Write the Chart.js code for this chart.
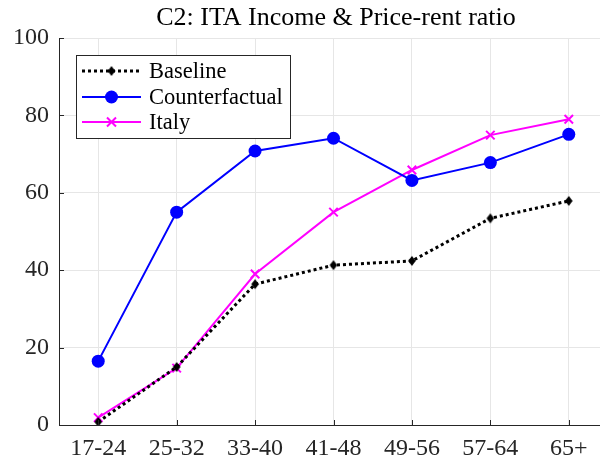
<!DOCTYPE html>
<html><head><meta charset="utf-8">
<script src="https://cdn.jsdelivr.net/npm/chart.js@4/dist/chart.umd.min.js"></script>
<style>
html,body{margin:0;padding:0;background:#fff;overflow:hidden;width:600px;height:463px;}
#wrap{position:absolute;left:0;top:0;width:616px;height:463px;}
</style></head>
<body>
<div id="wrap"><canvas id="c" width="616" height="463"></canvas></div>
<script>
const categories = ["17-24","25-32","33-40","41-48","49-56","57-64","65+"];
const baseline = [0.8, 15.0, 36.4, 41.3, 42.4, 53.4, 57.9];
const counterfactual = [16.5, 55.0, 70.8, 74.1, 63.2, 67.8, 75.1];
const italy = [1.9, 14.7, 39.0, 55.0, 65.9, 74.9, 79.0];
const yTicks = [0, 20, 40, 60, 80, 100];
const titleText = "C2: ITA Income & Price-rent ratio";
const FONT = "'Liberation Serif', 'Times New Roman', serif";
const AXIS = "#262626";

function drawMarker(ctx, style, x, y, r, color, bw){
  ctx.save();
  ctx.fillStyle = color; ctx.strokeStyle = color; ctx.lineWidth = bw; ctx.setLineDash([]);
  ctx.beginPath();
  if (style instanceof HTMLCanvasElement){ ctx.drawImage(style, x - style.width/2, y - style.height/2); }
  else if (style === 'circle'){ ctx.arc(x,y,r,0,Math.PI*2); ctx.fill(); }
  else if (style === 'crossRot'){ const d=r*0.75; ctx.moveTo(x-d,y-d); ctx.lineTo(x+d,y+d); ctx.moveTo(x+d,y-d); ctx.lineTo(x-d,y+d); ctx.stroke(); }
  ctx.restore();
}

const overlay = {
  id: 'overlay',
  afterDraw(chart){
    const ctx = chart.ctx, ca = chart.chartArea;
    const xs = chart.scales.x, ys = chart.scales.y;
    ctx.save();
    ctx.strokeStyle = AXIS; ctx.lineWidth = 1;
    ctx.beginPath();
    categories.forEach((c,i)=>{ const px = Math.round(xs.getPixelForValue(i))+0.5; ctx.moveTo(px, ca.bottom); ctx.lineTo(px, ca.bottom-5); });
    yTicks.forEach(v=>{ const py = Math.round(ys.getPixelForValue(v))+0.5; ctx.moveTo(ca.left, py); ctx.lineTo(ca.left+5, py); });
    ctx.stroke();
    ctx.fillStyle = '#000'; ctx.font = "26px " + FONT; ctx.textAlign='center'; ctx.textBaseline='middle';
    ctx.fillText(titleText, 336, 18);
    const bx=76, by=55, bw=214, bh=83;
    ctx.fillStyle='#fff'; ctx.fillRect(bx,by,bw,bh);
    ctx.strokeStyle=AXIS; ctx.lineWidth=1; ctx.strokeRect(bx+0.5,by+0.5,bw,bh);
    const rows=[71,97,122];
    chart.data.datasets.forEach((ds,i)=>{
      const y=rows[i];
      ctx.save();
      ctx.strokeStyle=ds.borderColor; ctx.lineWidth=ds.borderWidth; ctx.setLineDash(ds.borderDash||[]);
      ctx.beginPath(); ctx.moveTo(82,y); ctx.lineTo(141,y); ctx.stroke();
      ctx.restore();
      drawMarker(ctx, ds.pointStyle, 111.5, y, ds.pointRadius, ds.borderColor, ds.pointBorderWidth);
      ctx.fillStyle='#000'; ctx.font="22.5px "+FONT; ctx.textAlign='left'; ctx.textBaseline='middle';
      ctx.fillText(ds.label, 149, y+1);
    });
    ctx.restore();
  }
};

const diamond = document.createElement('canvas');
diamond.width = 10; diamond.height = 12;
(function(){ const c = diamond.getContext('2d'); c.fillStyle='#000'; c.beginPath(); c.moveTo(5,1); c.lineTo(8.8,6); c.lineTo(5,11); c.lineTo(1.2,6); c.closePath(); c.fill(); })();

new Chart(document.getElementById('c'), {
  type: 'line',
  data: {
    labels: categories,
    datasets: [
      {label:'Baseline', data: baseline, borderColor:'#000000', backgroundColor:'#000000', borderWidth:3, borderDash:[3,3],
       pointStyle: diamond, pointRadius:5, pointBorderWidth:1, pointBackgroundColor:'#000', pointBorderColor:'#000'},
      {label:'Counterfactual', data: counterfactual, borderColor:'#0000ff', backgroundColor:'#0000ff', borderWidth:2,
       pointStyle:'circle', pointRadius:6.5, pointBorderWidth:0, pointBackgroundColor:'#0000ff', pointBorderColor:'#0000ff'},
      {label:'Italy', data: italy, borderColor:'#ff00ff', backgroundColor:'#ff00ff', borderWidth:2,
       pointStyle:'crossRot', pointRadius:6, pointBorderWidth:2, pointBackgroundColor:'#ff00ff', pointBorderColor:'#ff00ff'}
    ]
  },
  options: {
    responsive:false, animation:false,
    layout:{padding:{top:38, right:0, left:0, bottom:0}},
    plugins:{legend:{display:false}, title:{display:false}, tooltip:{enabled:false}},
    elements:{line:{tension:0}},
    scales:{
      x:{type:'category', offset:true,
         grid:{color:'#e6e6e6', lineWidth:1, drawTicks:false, offset:false},
         border:{color:AXIS, width:1},
         ticks:{color:'#262626', font:{family:FONT, size:24}, padding:9, maxRotation:0, autoSkip:false},
         afterFit(s){ s.height = 38; s.paddingLeft = 0; s.paddingRight = 0; }},
      y:{type:'linear', min:0, max:100,
         afterBuildTicks(s){ s.ticks = yTicks.map(v=>({value:v})); },
         grid:{color:'#e6e6e6', lineWidth:1, drawTicks:false},
         border:{color:AXIS, width:1},
         ticks:{color:'#262626', font:{family:FONT, size:24}, padding:10},
         afterFit(s){ s.width = 59; s.paddingTop = 0; s.paddingBottom = 0; }}
    }
  },
  plugins:[overlay]
});
</script>
</body></html>
